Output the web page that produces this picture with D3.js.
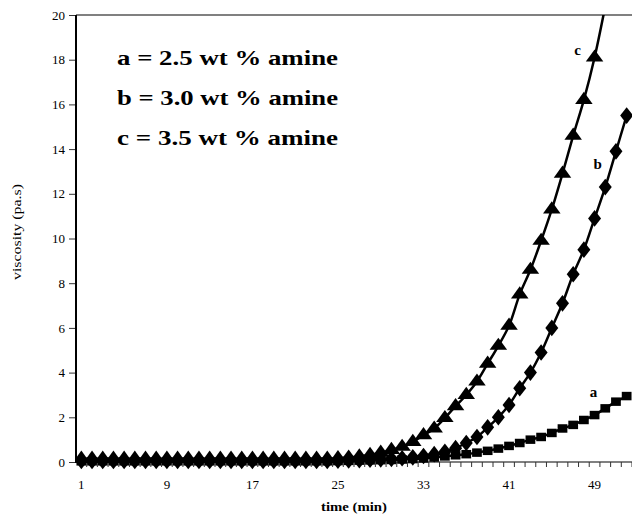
<!DOCTYPE html>
<html>
<head>
<meta charset="utf-8">
<script src="https://cdn.jsdelivr.net/npm/d3@7"></script>
<style>
  body { margin: 0; background: #fff; }
  svg { display: block; font-family: "Liberation Serif", "Times New Roman", serif; }
</style>
</head>
<body>
<div id="chart_div"></div>
<script>
// time in minutes (category axis)
var times = [1,2,3,4,5,6,7,8,9,10,11,12,13,14,15,16,17,18,19,20,21,22,23,24,25,26,
  27,28,29,30,31,32,33,34,35,36,37,38,39,40,41,42,43,44,45,46,47,48,49,50,51,52];
var time_labels = [1, 9, 17, 25, 33, 41, 49];
var y_ticks = [0, 2, 4, 6, 8, 10, 12, 14, 16, 18, 20];

// viscosity (pa.s)
var visc_a = [0.03,0.03,0.03,0.03,0.03,0.03,0.03,0.03,0.03,0.03,0.03,0.03,0.03,0.03,0.03,0.03,
  0.03,0.03,0.03,0.03,0.03,0.03,0.03,0.03,0.04,0.05,0.06,0.07,0.08,0.09,0.11,0.13,
  0.16,0.2,0.25,0.3,0.35,0.42,0.5,0.6,0.72,0.85,1.0,1.12,1.3,1.5,1.66,1.88,2.1,2.4,2.7,2.95];
var visc_b = [0.05,0.05,0.05,0.05,0.05,0.05,0.05,0.05,0.05,0.05,0.05,0.05,0.05,0.05,0.05,0.05,
  0.05,0.05,0.05,0.05,0.05,0.05,0.05,0.05,0.06,0.07,0.08,0.1,0.12,0.14,0.17,0.21,
  0.27,0.35,0.46,0.62,0.85,1.12,1.55,2.0,2.55,3.3,4.0,4.9,6.0,7.1,8.4,9.5,10.9,12.3,13.9,15.5];
var visc_c = [0.15,0.15,0.15,0.15,0.15,0.15,0.15,0.15,0.15,0.15,0.15,0.15,0.15,0.15,0.15,0.15,
  0.15,0.15,0.15,0.15,0.15,0.15,0.15,0.15,0.17,0.2,0.25,0.32,0.42,0.54,0.68,0.9,
  1.2,1.5,1.97,2.5,3.0,3.6,4.4,5.2,6.1,7.5,8.6,9.9,11.3,12.9,14.6,16.2,18.1,20.4];

var legend_lines = ["a = 2.5 wt % amine", "b = 3.0 wt % amine", "c = 3.5 wt % amine"];

var w = 632, h = 516;
var left = 76, right = 632, top_y = 15, bottom = 462;

var the_svg = d3.select('#chart_div')
  .append('svg')
    .attr('width', w)
    .attr('height', h);

var x = d3.scaleBand()
  .domain(times)
  .range([left, right]);

var y = d3.scaleLinear()
  .domain([0, 20])
  .range([bottom, top_y]);

// top frame line
the_svg.append('line')
  .attr('x1', left).attr('x2', right)
  .attr('y1', top_y).attr('y2', top_y)
  .attr('stroke', '#808080')
  .attr('stroke-width', 2);

// x axis: ticks between categories, labels every 8th
var x_ax = the_svg.append('g')
  .attr('transform', 'translate(0,' + bottom + ')');
x_ax.append('line')
  .attr('x1', left).attr('x2', right)
  .attr('stroke', '#808080')
  .attr('stroke-width', 2);
x_ax.selectAll('.xt')
  .data(times)
  .enter().append('line')
    .attr('x1', function(d) { return x(d) + x.bandwidth(); })
    .attr('x2', function(d) { return x(d) + x.bandwidth(); })
    .attr('y1', 0).attr('y2', 5)
    .attr('stroke', '#333')
    .attr('stroke-width', 1);
x_ax.selectAll('.xl')
  .data(time_labels)
  .enter().append('text')
    .attr('x', function(d) { return x(d) + x.bandwidth() / 2; })
    .attr('y', 27)
    .attr('text-anchor', 'middle')
    .attr('font-size', 13)
    .text(function(d) { return d; });

// y axis
var y_axis = d3.axisLeft(y)
  .tickValues(y_ticks)
  .tickSize(7)
  .tickPadding(4);
var y_ax = the_svg.append('g')
  .attr('transform', 'translate(' + left + ',0)')
  .call(y_axis);
y_ax.select('.domain').remove();
y_ax.append('line')
  .attr('y1', top_y).attr('y2', bottom + 1)
  .attr('stroke', '#000')
  .attr('stroke-width', 2);
y_ax.selectAll('.tick line').attr('stroke', '#333');
y_ax.selectAll('.tick text')
  .attr('font-size', 13)
  .attr('font-family', '"Liberation Serif", serif')
  .attr('fill', '#000');

// axis titles
the_svg.append('text')
  .attr('transform', 'translate(21,232) rotate(-90)')
  .attr('text-anchor', 'middle')
  .attr('font-size', 13)
  .attr('textLength', 96)
  .attr('lengthAdjust', 'spacingAndGlyphs')
  .text('viscosity (pa.s)');

the_svg.append('text')
  .attr('x', 354)
  .attr('y', 511)
  .attr('text-anchor', 'middle')
  .attr('font-size', 13)
  .attr('font-weight', 'bold')
  .attr('textLength', 66)
  .attr('lengthAdjust', 'spacingAndGlyphs')
  .text('time (min)');

// clip at the top of the plot
the_svg.append('clipPath')
  .attr('id', 'plot_clip')
  .append('rect')
    .attr('x', left).attr('y', top_y)
    .attr('width', right - left).attr('height', h - top_y);

var plot = the_svg.append('g').attr('clip-path', 'url(#plot_clip)');

var line = d3.line()
  .x(function(d) { return x(d[0]) + x.bandwidth() / 2; })
  .y(function(d) { return y(d[1]); })
  .curve(d3.curveCatmullRom);

// markers are a bit wider than tall in the picture
var series = [
  { vals: visc_a, sym: d3.symbolSquare, size: 72, sx: 1.15 },
  { vals: visc_b, sym: d3.symbolDiamond, size: 80, sx: 1.35 },
  { vals: visc_c, sym: d3.symbolTriangle, size: 85, sx: 1.25 }
];

series.forEach(function(s) {
  var pts = s.vals.map(function(v, i) { return [times[i], v]; });
  plot.append('path')
    .datum(pts)
    .attr('d', line)
    .attr('fill', 'none')
    .attr('stroke', '#000')
    .attr('stroke-width', 2.5);
  plot.selectAll(null)
    .data(pts)
    .enter().append('path')
      .attr('transform', function(d) {
        return 'translate(' + (x(d[0]) + x.bandwidth() / 2) + ',' + y(d[1]) + ') scale(' + s.sx + ',1)';
      })
      .attr('d', d3.symbol().type(s.sym).size(s.size))
      .attr('fill', '#000');
});

// legend text
the_svg.selectAll('.leg')
  .data(legend_lines)
  .enter().append('text')
    .attr('x', 117)
    .attr('y', function(d, i) { return 65 + i * 40; })
    .attr('font-size', 21)
    .attr('font-weight', 'bold')
    .attr('textLength', 221)
    .attr('lengthAdjust', 'spacingAndGlyphs')
    .text(function(d) { return d; });

// curve letters
var curve_labels = [
  { t: 'a', x: 48.9, v: 2.9 },
  { t: 'b', x: 49.3, v: 13.1 },
  { t: 'c', x: 47.4, v: 18.2 }
];
the_svg.selectAll('.cl')
  .data(curve_labels)
  .enter().append('text')
    .attr('x', function(d) { return x(Math.floor(d.x)) + x.bandwidth() * (d.x % 1 + 0.5); })
    .attr('y', function(d) { return y(d.v); })
    .attr('text-anchor', 'middle')
    .attr('font-size', 15)
    .attr('font-weight', 'bold')
    .text(function(d) { return d.t; });
</script>
</body>
</html>
